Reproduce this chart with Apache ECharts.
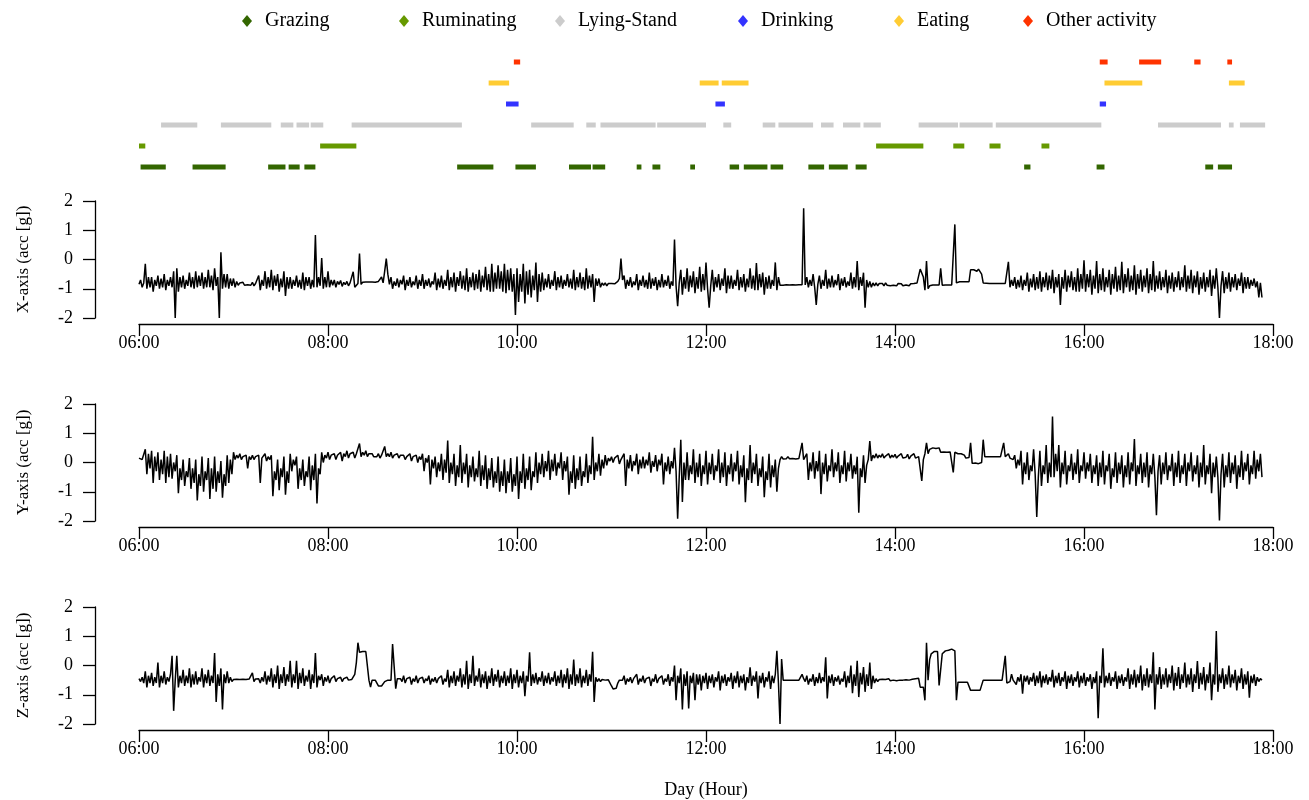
<!DOCTYPE html>
<html>
<head>
<meta charset="utf-8">
<script src="https://cdn.jsdelivr.net/npm/echarts@6/dist/echarts.min.js"></script>
<style>
    html, body { margin: 0; padding: 0; background: #fff; }
    #main { width: 1309px; height: 800px; }
</style>
</head>
<body>
<div id="main"></div>
<script>
    // activity rows, bottom to top
    var activities = ['Grazing', 'Ruminating', 'Lying-Stand', 'Drinking', 'Eating', 'Other activity'];
    var activityColors = ['#336600', '#669900', '#cccccc', '#3333ff', '#ffcc33', '#ff3300'];

    // activity periods [start, end]
    var grazing = [['06:01', '06:17'], ['06:34', '06:55'], ['07:22', '07:33'], ['07:35', '07:42'], ['07:45', '07:52'],
        ['09:22', '09:45'], ['09:59', '10:12'], ['10:33', '10:47'], ['10:48', '10:56'], ['11:16', '11:19'],
        ['11:26', '11:31'], ['11:50', '11:53'], ['12:15', '12:21'], ['12:24', '12:39'], ['12:41', '12:49'],
        ['13:05', '13:15'], ['13:18', '13:30'], ['13:35', '13:42'], ['15:22', '15:26'], ['16:08', '16:13'],
        ['17:17', '17:22'], ['17:25', '17:34']];
    var ruminating = [['06:00', '06:04'], ['07:55', '08:18'], ['13:48', '14:18'], ['14:37', '14:44'],
        ['15:00', '15:07'], ['15:33', '15:38']];
    var lyingStand = [['06:14', '06:37'], ['06:52', '07:24'], ['07:30', '07:38'], ['07:40', '07:48'], ['07:49', '07:57'],
        ['08:15', '09:25'], ['10:09', '10:36'], ['10:44', '10:50'], ['10:53', '11:28'], ['11:29', '12:00'],
        ['12:11', '12:16'], ['12:36', '12:44'], ['12:46', '13:08'], ['13:13', '13:21'], ['13:27', '13:38'],
        ['13:40', '13:51'], ['14:15', '14:40'], ['14:41', '15:02'], ['15:04', '16:11'], ['16:47', '17:27'],
        ['17:32', '17:35'], ['17:39', '17:55']];
    var drinking = [['09:53', '10:01'], ['12:06', '12:12'], ['16:10', '16:14']];
    var eating = [['09:42', '09:55'], ['11:56', '12:08'], ['12:10', '12:27'], ['16:13', '16:37'], ['17:32', '17:42']];
    var otherActivity = [['09:58', '10:02'], ['16:10', '16:15'], ['16:35', '16:49'], ['17:10', '17:14'], ['17:31', '17:34']];

    // acceleration [g], one value per minute, one row per hour from 06:00
    var startHour = 6;
    var xAcc = [
        [-0.85, -0.7, -0.95, -0.8, -0.15, -1.0, -0.6, -0.95, -0.6, -1.1, -0.7, -0.9, -0.55, -1.0, -0.65, -0.95, -0.5, -1.05, -0.7, -0.9, -0.6, -0.95, -0.4, -2.0, -0.3, -1.1, -0.6, -0.95, -0.55, -1.0, -0.7, -0.9, -0.45, -0.95, -0.6, -1.0, -0.4, -0.95, -0.55, -0.9, -0.45, -1.0, -0.6, -0.95, -0.35, -0.95, -0.55, -1.05, -0.3, -0.9, -0.6, -2.0, 0.25, -1.0, -0.5, -0.95, -0.5, -1.0, -0.65, -0.9],
        [-0.65, -0.95, -0.75, -0.88, -0.8, -0.86, -0.78, -0.88, -0.82, -0.86, -0.8, -0.88, -0.78, -0.9, -0.82, -0.85, -0.55, -1.05, -0.7, -0.9, -0.4, -1.0, -0.6, -0.95, -0.35, -1.05, -0.55, -0.9, -0.5, -1.1, -0.65, -0.95, -0.4, -1.25, -0.6, -1.0, -0.6, -1.0, -0.7, -0.9, -0.55, -0.95, -0.7, -1.0, -0.45, -1.05, -0.6, -0.9, -0.6, -1.0, -0.7, -0.95, 0.84, -0.95, -0.6, -0.9, 0.05, -1.0, -0.6, -0.95],
        [-0.4, -0.95, -0.7, -0.88, -0.7, -0.95, -0.75, -0.85, -0.72, -0.92, -0.78, -0.86, -0.75, -0.9, -0.8, -0.86, -0.42, -0.95, -0.9, -0.82, 0.2, -0.85, -0.78, -0.78, -0.77, -0.8, -0.77, -0.79, -0.77, -0.8, -0.78, -0.78, -0.75, -0.7, -0.6, -0.8, -0.4, 0.03, -0.5, -0.85, -0.6, -1.0, -0.75, -0.9, -0.65, -0.95, -0.7, -0.85, -0.55, -1.05, -0.7, -0.9, -0.6, -0.95, -0.75, -0.88, -0.55, -1.0, -0.7, -0.9],
        [-0.5, -1.0, -0.7, -0.9, -0.65, -0.95, -0.75, -0.85, -0.45, -1.05, -0.65, -0.95, -0.55, -1.0, -0.7, -0.9, -0.35, -1.05, -0.6, -0.95, -0.45, -1.1, -0.6, -0.9, -0.4, -1.0, -0.55, -1.05, -0.3, -1.1, -0.6, -0.95, -0.45, -1.05, -0.5, -1.0, -0.35, -1.1, -0.55, -0.95, -0.25, -1.05, -0.5, -1.1, -0.15, -1.1, -0.45, -1.0, -0.2, -1.0, -0.4, -1.1, -0.15, -1.15, -0.35, -1.05, -0.3, -1.1, -0.5, -1.9],
        [-0.3, -1.45, -0.5, -1.1, -0.15, -1.5, -0.4, -1.2, -0.35, -1.3, -0.55, -1.05, -0.1, -1.45, -0.5, -1.1, -0.45, -1.05, -0.65, -0.95, -0.5, -1.0, -0.7, -0.9, -0.4, -1.05, -0.6, -0.95, -0.55, -1.0, -0.7, -0.9, -0.5, -0.95, -0.65, -1.0, -0.35, -1.05, -0.6, -0.95, -0.45, -1.0, -0.6, -1.05, -0.3, -1.0, -0.55, -0.95, -0.5, -1.45, -0.65, -0.9, -0.65, -0.95, -0.8, -0.88, -0.8, -0.9, -0.82, -0.86],
        [-0.82, -0.86, -0.83, -0.85, -0.75, -0.65, 0.03, -0.7, -0.55, -1.0, -0.7, -0.9, -0.6, -0.95, -0.75, -0.88, -0.5, -1.05, -0.7, -0.9, -0.55, -0.95, -0.7, -1.0, -0.45, -1.0, -0.65, -0.9, -0.6, -1.05, -0.7, -0.95, -0.5, -0.95, -0.7, -0.9, -0.55, -1.0, -0.75, -0.9, 0.68, -0.9, -1.6, -0.8, -0.35, -1.2, -0.6, -1.0, -0.3, -1.1, -0.55, -0.95, -0.4, -1.15, -0.6, -1.0, -0.25, -1.1, -0.5, -1.05],
        [-0.1, -1.0, -1.65, -0.9, -0.35, -1.1, -0.6, -0.95, -0.5, -1.05, -0.65, -0.9, -0.3, -1.15, -0.55, -1.0, -0.55, -1.0, -0.7, -0.9, -0.35, -1.05, -0.6, -0.95, -0.5, -1.1, -0.65, -0.95, -0.3, -1.0, -0.55, -1.05, -0.12, -1.05, -0.5, -0.95, -0.45, -1.2, -0.6, -1.0, -0.55, -1.0, -0.7, -0.9, -0.1, -1.05, -0.6, -0.88, -0.82, -0.88, -0.84, -0.86, -0.83, -0.87, -0.85, -0.86, -0.83, -0.87, -0.84, -0.86],
        [-0.85, -0.86, 1.75, -0.87, -0.6, -0.95, -0.7, -0.9, -0.5, -0.95, -1.55, -0.85, -0.55, -1.0, -0.7, -0.9, -0.35, -1.0, -0.65, -0.95, -0.55, -0.95, -0.7, -0.88, -0.5, -1.05, -0.65, -0.9, -0.6, -0.95, -0.75, -0.9, -0.45, -1.0, -0.6, -0.95, -0.05, -1.05, -0.6, -0.9, -0.45, -1.65, -0.7, -0.95, -0.75, -0.95, -0.8, -0.9, -0.8, -0.9, -0.82, -0.88, -0.82, -0.9, -0.8, -0.88, -0.82, -0.9, -0.84, -0.88],
        [-0.83, -0.9, -0.82, -0.88, -0.83, -0.9, -0.84, -0.87, -0.82, -0.9, -0.83, -0.87, -0.82, -0.88, -0.8, -0.85, -0.33, -0.35, -0.6, -1.05, -0.05, -1.0, -0.9, -0.87, -0.87, -0.88, -0.87, -0.87, -0.87, -0.3, -0.88, -0.87, -0.87, -0.88, -0.87, -0.87, -0.87, -0.87, 1.2, -0.8, -0.76, -0.76, -0.76, -0.76, -0.76, -0.76, -0.76, -0.76, -0.35, -0.33, -0.35, -0.33, -0.4, -0.33, -0.35, -0.5, -0.8, -0.82, -0.81, -0.82],
        [-0.82, -0.83, -0.82, -0.83, -0.82, -0.83, -0.82, -0.83, -0.82, -0.83, -0.82, -0.83, -0.08, -0.95, -0.7, -0.9, -0.6, -1.0, -0.7, -0.95, -0.55, -1.05, -0.7, -0.9, -0.45, -1.1, -0.65, -0.95, -0.5, -1.05, -0.6, -1.0, -0.4, -1.1, -0.6, -0.95, -0.45, -1.05, -0.55, -1.0, -0.35, -1.15, -0.6, -0.95, -0.5, -1.55, -0.6, -1.0, -0.35, -1.1, -0.55, -0.95, -0.4, -1.05, -0.6, -1.1, -0.3, -1.1, -0.5, -1.0],
        [-0.03, -1.1, -0.5, -0.95, -0.35, -1.2, -0.55, -1.0, -0.05, -1.15, -0.5, -1.05, -0.3, -1.1, -0.6, -0.95, -0.35, -1.2, -0.5, -1.0, -0.25, -1.1, -0.55, -1.05, -0.08, -1.15, -0.5, -0.95, -0.3, -1.1, -0.55, -1.05, -0.2, -1.2, -0.5, -1.0, -0.35, -1.1, -0.55, -0.95, -0.3, -1.15, -0.5, -1.05, -0.05, -1.1, -0.55, -1.0, -0.4, -1.05, -0.6, -0.95, -0.35, -1.15, -0.55, -1.0, -0.45, -1.1, -0.6, -0.95],
        [-0.4, -1.05, -0.6, -0.95, -0.2, -1.1, -0.55, -1.0, -0.35, -1.15, -0.55, -0.95, -0.4, -1.2, -0.6, -1.0, -0.45, -1.1, -0.6, -0.95, -0.35, -1.25, -0.55, -1.0, -0.3, -0.95, -2.0, -0.9, -0.4, -1.15, -0.6, -1.0, -0.45, -1.1, -0.6, -0.95, -0.5, -1.05, -0.65, -0.9, -0.45, -1.15, -0.6, -1.0, -0.6, -1.0, -0.7, -0.9, -0.65, -0.95, -0.75, -1.3, -0.8, -1.3]
    ];
    var yAcc = [
        [0.15, 0.2, 0.1, 0.15, 0.45, -0.4, 0.3, -0.2, 0.4, -0.7, 0.2, -0.3, 0.35, -0.6, 0.1, -0.4, 0.4, -0.7, 0.2, -0.5, 0.3, -0.55, 0.0, -0.3, 0.25, -1.05, -0.2, -0.6, 0.1, -0.8, -0.3, -0.5, 0.15, -0.9, -0.2, -0.7, 0.1, -1.3, -0.4, -0.8, 0.2, -1.0, -0.3, -0.6, 0.15, -1.25, -0.2, -0.9, 0.2, -1.0, -0.3, -0.7, 0.05, -1.2, -0.4, -0.8, 0.25, -0.7, 0.1, -0.4],
        [0.35, 0.1, 0.25, 0.15, 0.3, 0.1, 0.2, 0.15, 0.25, -0.2, 0.2, 0.1, 0.25, 0.1, 0.2, 0.15, 0.25, -0.7, 0.15, 0.1, 0.3, 0.05, 0.2, 0.1, 0.25, -1.15, -0.3, -0.6, 0.1, -0.95, -0.2, -0.5, 0.2, -1.1, -0.3, -0.7, 0.3, -0.3, 0.1, -0.1, 0.2, -0.9, -0.2, -0.6, 0.1, -0.8, -0.3, -0.5, 0.2, -0.95, -0.1, -0.6, 0.3, -1.4, -0.2, -0.4, 0.35, 0.0, 0.25, 0.15],
        [0.35, 0.1, 0.25, 0.2, 0.3, 0.1, 0.25, 0.2, 0.35, 0.05, 0.3, 0.2, 0.4, 0.15, 0.3, 0.25, 0.35, 0.15, 0.3, 0.25, 0.65, 0.2, 0.35, 0.25, 0.4, 0.2, 0.3, 0.25, 0.3, 0.2, 0.25, 0.2, 0.3, 0.15, 0.25, 0.2, 0.55, 0.2, 0.3, 0.2, 0.35, 0.15, 0.25, 0.2, 0.3, 0.15, 0.25, 0.2, 0.25, 0.1, 0.2, 0.15, 0.3, 0.05, 0.2, 0.15, 0.25, 0.0, 0.2, 0.1],
        [0.3, -0.3, 0.15, 0.0, 0.25, -0.75, 0.1, -0.2, 0.2, -0.5, 0.0, -0.3, 0.3, -0.6, 0.1, -0.35, 0.75, -0.7, 0.0, -0.4, 0.3, -0.8, -0.1, -0.5, 0.6, -0.7, 0.0, -0.4, 0.3, -0.85, -0.1, -0.5, 0.2, -0.65, -0.2, -0.5, 0.4, -0.8, -0.1, -0.6, 0.25, -0.9, -0.2, -0.6, 0.15, -0.85, -0.3, -0.7, 0.2, -1.0, -0.3, -0.8, 0.1, -1.05, -0.3, -0.7, 0.15, -1.0, -0.4, -0.8],
        [0.2, -1.25, -0.3, -0.7, 0.3, -0.9, -0.2, -0.6, 0.2, -0.95, -0.3, -0.5, 0.35, -0.7, 0.0, -0.4, 0.3, -0.5, 0.05, -0.3, 0.4, -0.6, 0.1, -0.3, 0.3, -0.45, 0.0, -0.2, 0.35, -0.6, 0.05, -0.3, 0.2, -1.1, -0.3, -0.7, 0.25, -0.9, -0.2, -0.6, 0.2, -0.8, -0.3, -0.5, 0.3, -0.7, -0.1, -0.4, 0.88, -0.6, 0.0, -0.3, 0.3, -0.45, 0.1, -0.2, 0.25, -0.1, 0.15, 0.05],
        [0.2, 0.0, 0.15, 0.1, 0.25, -0.05, 0.1, 0.15, 0.3, -0.8, 0.1, -0.2, 0.25, -0.3, 0.05, -0.1, 0.3, -0.4, 0.1, -0.2, 0.2, -0.2, 0.1, -0.1, 0.35, -0.35, 0.05, -0.15, 0.25, -0.3, 0.1, -0.1, 0.3, -0.75, 0.0, -0.3, 0.2, -0.4, 0.05, -0.2, 0.5, -0.3, -1.92, -0.5, 0.78, -1.35, 0.0, -0.6, 0.35, -0.6, -0.1, -0.4, 0.45, -0.7, 0.0, -0.5, 0.3, -0.8, -0.1, -0.4],
        [0.4, -0.75, 0.0, -0.4, 0.3, -0.6, -0.1, -0.3, 0.45, -0.7, 0.0, -0.5, 0.35, -0.8, -0.1, -0.4, 0.3, -0.65, 0.0, -0.3, 0.4, -0.75, -0.1, -0.5, 0.25, -1.36, -0.2, -0.6, 0.6, -0.7, 0.0, -0.4, 0.3, -0.8, -0.2, -0.5, 0.2, -1.19, -0.3, -0.6, 0.3, -0.85, -0.1, -0.5, 0.1, -1.0, -0.2, 0.1, 0.2, 0.12, 0.15, 0.13, 0.2, 0.13, 0.16, 0.14, 0.18, 0.12, 0.16, 0.14],
        [0.15, 0.67, 0.1, 0.15, 0.3, -0.6, 0.0, -0.3, 0.35, -0.55, 0.05, -0.3, 0.4, -1.08, 0.0, -0.4, 0.3, -0.65, -0.1, -0.3, 0.45, -0.5, 0.0, -0.3, 0.35, -0.7, -0.1, -0.4, 0.4, -0.65, 0.0, -0.3, 0.3, -0.55, -0.1, -0.4, 0.2, -1.72, -0.2, -0.5, 0.25, -0.7, -0.1, 0.1, 0.73, 0.05, 0.25, 0.15, 0.3, 0.15, 0.25, 0.18, 0.3, 0.15, 0.22, 0.18, 0.3, 0.15, 0.25, 0.18],
        [0.28, 0.15, 0.22, 0.18, 0.3, 0.15, 0.2, 0.18, 0.28, 0.12, 0.22, 0.16, 0.3, 0.15, 0.2, 0.2, 0.2, -0.63, 0.1, 0.3, 0.67, 0.3, 0.45, 0.45, 0.5, 0.45, 0.48, 0.45, 0.5, 0.35, 0.38, 0.36, 0.38, 0.35, 0.37, 0.36, 0.35, -0.34, 0.35, 0.35, 0.3, 0.25, 0.3, 0.28, 0.25, 0.15, 0.2, 0.17, 0.67, -0.03, -0.03, -0.02, -0.02, -0.04, -0.03, 0.0, 0.78, 0.2, 0.2, 0.2],
        [0.22, 0.2, 0.21, 0.2, 0.22, 0.2, 0.21, 0.2, 0.2, 0.67, 0.2, 0.2, 0.3, 0.15, 0.2, 0.1, 0.25, -0.2, 0.1, -0.1, 0.4, -0.75, 0.0, -0.4, 0.35, -0.6, -0.1, -0.3, 0.45, -0.4, -1.86, -0.5, 0.4, -0.8, -0.1, -0.4, 0.6, -0.7, 0.0, -0.5, 1.57, -0.5, 0.3, -0.3, 0.6, -0.85, 0.0, -0.4, 0.4, -0.75, -0.1, -0.3, 0.3, -0.6, 0.0, -0.4, 0.45, -0.7, -0.1, -0.3],
        [0.35, -0.55, 0.0, -0.3, 0.3, -0.7, -0.1, -0.4, 0.25, -0.8, 0.0, -0.5, 0.4, -0.75, -0.1, -0.3, 0.3, -0.9, -0.2, -0.5, 0.35, -0.7, 0.0, -0.4, 0.25, -0.85, -0.1, -0.5, 0.35, -0.75, 0.0, -0.3, 0.8, -0.8, -0.1, -0.4, 0.3, -0.7, 0.0, -0.5, 0.35, -0.85, -0.1, -0.4, 0.3, -0.5, -1.8, -0.3, 0.25, -0.75, 0.0, -0.4, 0.35, -0.6, -0.1, -0.3, 0.3, -0.8, 0.0, -0.5],
        [0.4, -0.7, -0.1, -0.4, 0.3, -0.8, 0.0, -0.3, 0.35, -0.65, -0.1, -0.4, 0.25, -0.85, 0.0, -0.5, 0.6, -0.75, -0.1, -0.4, 0.3, -1.05, 0.0, -0.5, 0.2, -0.5, -1.98, -0.4, 0.3, -0.85, -0.1, -0.5, 0.35, -0.7, 0.0, -0.4, 0.25, -0.9, -0.1, -0.5, 0.4, -0.6, 0.0, -0.3, 0.3, -0.75, -0.1, -0.4, 0.4, -0.55, 0.1, -0.3, 0.3, -0.5]
    ];
    var zAcc = [
        [-0.45, -0.55, -0.4, -0.6, -0.2, -0.75, -0.35, -0.6, -0.25, -0.7, -0.4, -0.6, 0.1, -0.75, -0.35, -0.6, -0.2, -0.65, -0.4, -0.55, -0.3, 0.33, -1.55, -0.5, 0.33, -0.75, -0.35, -0.6, -0.15, -0.7, -0.35, -0.6, -0.1, -0.75, -0.3, -0.65, -0.2, -0.65, -0.4, -0.55, -0.1, -0.75, -0.3, -0.6, -0.15, -0.7, -0.35, -0.6, 0.43, -1.25, -0.3, -0.7, -0.1, -1.5, -0.3, -0.6, -0.2, -0.6, -0.4, -0.55],
        [-0.48, -0.52, -0.47, -0.5, -0.48, -0.51, -0.47, -0.5, -0.48, -0.52, -0.46, -0.5, -0.25, -0.55, -0.46, -0.5, -0.45, -0.6, -0.4, -0.55, -0.2, -0.65, -0.35, -0.55, -0.1, -0.75, -0.3, -0.6, 0.0, -0.8, -0.3, -0.6, -0.05, -0.7, -0.3, -0.55, 0.16, -0.75, -0.3, -0.6, 0.16, -0.8, -0.25, -0.6, -0.1, -0.7, -0.35, -0.55, -0.15, -0.8, -0.3, -0.6, 0.43, -0.75, -0.35, -0.5, -0.3, -0.7, -0.4, -0.55],
        [-0.35, -0.6, -0.45, -0.5, -0.35, -0.55, -0.45, -0.5, -0.4, -0.55, -0.45, -0.48, -0.4, -0.5, -0.45, -0.48, -0.45, -0.3, 0.1, 0.78, 0.45, 0.48, 0.48, 0.48, 0.48, 0.48, -0.5, -0.74, -0.5, -0.5, -0.5, -0.5, -0.7, -0.7, -0.7, -0.7, -0.55, -0.5, -0.5, -0.5, -0.5, 0.73, 0.7, -0.79, -0.45, -0.5, -0.45, -0.55, -0.35, -0.6, -0.45, -0.5, -0.4, -0.65, -0.45, -0.55, -0.35, -0.6, -0.45, -0.5],
        [-0.4, -0.6, -0.45, -0.52, -0.35, -0.65, -0.45, -0.55, -0.4, -0.6, -0.45, -0.5, -0.35, -0.65, -0.45, -0.55, -0.15, -0.75, -0.35, -0.6, -0.2, -0.7, -0.35, -0.55, -0.1, -0.75, -0.3, -0.65, 0.16, -0.8, -0.3, -0.6, 0.33, -0.7, -0.35, -0.55, -0.1, -0.75, -0.3, -0.6, -0.2, -0.8, -0.35, -0.6, -0.1, -0.7, -0.3, -0.55, -0.15, -0.75, -0.35, -0.6, -0.2, -0.7, -0.35, -0.6, -0.1, -0.8, -0.3, -0.6],
        [-0.15, -0.75, -0.35, -0.6, -0.2, -1.05, -0.35, -0.55, 0.45, -0.7, -0.3, -0.6, -0.25, -0.65, -0.4, -0.55, -0.2, -0.7, -0.35, -0.6, -0.25, -0.65, -0.4, -0.55, -0.2, -0.7, -0.35, -0.6, -0.15, -0.75, -0.3, -0.6, -0.1, -0.8, -0.3, -0.65, 0.2, -0.7, -0.3, -0.6, -0.1, -0.75, -0.35, -0.6, -0.15, -0.7, -0.3, -0.55, 0.47, -1.25, -0.4, -0.55, -0.45, -0.55, -0.48, -0.5, -0.5, -0.5, -0.49, -0.5],
        [-0.7, -0.8, -0.8, -0.78, -0.6, -0.5, -0.45, -0.5, -0.35, -0.65, -0.45, -0.55, -0.4, -0.6, -0.45, -0.5, -0.3, -0.65, -0.45, -0.55, -0.35, -0.6, -0.45, -0.5, -0.4, -0.7, -0.45, -0.55, -0.3, -0.6, -0.45, -0.5, -0.35, -0.65, -0.45, -0.55, -0.3, -0.7, -0.4, -0.55, 0.0, -1.19, -0.35, -0.6, -0.1, -1.5, -0.3, -0.7, -0.2, -1.47, -0.35, -0.6, -0.25, -1.19, -0.3, -0.65, -0.3, -0.85, -0.35, -0.6],
        [-0.25, -0.8, -0.35, -0.6, -0.3, -0.75, -0.4, -0.55, -0.2, -0.85, -0.35, -0.6, -0.3, -0.7, -0.4, -0.55, -0.25, -0.8, -0.35, -0.6, -0.2, -0.75, -0.35, -0.6, -0.3, -0.85, -0.4, -0.6, -0.06, -0.7, -0.35, -0.55, -0.2, -1.13, -0.35, -0.6, -0.25, -0.75, -0.4, -0.55, -0.2, -0.8, -0.35, -0.6, -0.3, 0.5, -0.6, -2.0, 0.22, -0.5, -0.5, -0.5, -0.5, -0.5, -0.5, -0.5, -0.5, -0.5, -0.5, -0.5],
        [-0.5, -0.3, -0.45, -0.55, -0.35, -0.65, -0.45, -0.55, -0.3, -0.7, -0.4, -0.6, -0.25, -0.6, -0.4, -0.55, 0.28, -1.13, -0.35, -0.6, -0.3, -0.7, -0.4, -0.55, -0.35, -0.65, -0.45, -0.55, -0.2, -0.75, -0.35, -0.6, 0.0, -0.95, -0.3, -0.7, 0.16, -1.08, -0.25, -0.65, -0.05, -0.9, -0.3, -0.7, 0.1, -0.8, -0.35, -0.6, -0.45, -0.55, -0.48, -0.52, -0.47, -0.52, -0.48, -0.5, -0.45, -0.52, -0.47, -0.5],
        [-0.46, -0.52, -0.47, -0.5, -0.45, -0.5, -0.46, -0.49, -0.45, -0.5, -0.44, -0.47, -0.42, -0.45, -0.42, -0.44, -0.74, -0.74, -0.74, -1.19, 0.78, -0.5, 0.2, 0.4, 0.45, 0.48, 0.48, 0.48, -0.68, -0.68, 0.4, 0.45, 0.5, 0.52, 0.52, 0.52, 0.56, 0.55, 0.5, -1.19, -0.57, -0.57, -0.57, -0.57, -0.57, -0.57, -0.57, -0.57, -0.85, -0.85, -0.85, -0.85, -0.85, -0.86, -0.85, -0.85, -0.5, -0.5, -0.5, -0.5],
        [-0.5, -0.5, -0.5, -0.5, -0.5, -0.5, -0.5, -0.5, -0.5, -0.5, 0.33, -0.6, -0.6, -0.55, -0.3, -0.5, -0.45, -0.65, -0.4, -0.55, -0.3, -0.96, -0.35, -0.55, -0.35, -0.65, -0.4, -0.55, -0.25, -0.7, -0.35, -0.6, -0.2, -0.75, -0.35, -0.6, -0.3, -0.65, -0.4, -0.55, -0.15, -0.75, -0.35, -0.6, -0.25, -0.7, -0.4, -0.55, -0.2, -0.8, -0.35, -0.6, -0.3, -0.7, -0.4, -0.55, -0.2, -0.75, -0.35, -0.6],
        [-0.25, -0.7, -0.4, -0.55, -0.3, -0.8, -0.4, -0.6, -0.2, -1.8, -0.35, -0.6, 0.59, -0.75, -0.35, -0.6, -0.25, -0.7, -0.4, -0.55, -0.2, -0.8, -0.35, -0.6, -0.3, -0.7, -0.4, -0.55, -0.1, -0.8, -0.3, -0.65, -0.15, -0.75, -0.3, -0.6, 0.0, -0.85, -0.3, -0.7, -0.1, -0.75, -0.3, -0.6, 0.45, -1.5, -0.3, -0.65, -0.05, -0.8, -0.3, -0.65, -0.1, -0.75, -0.3, -0.6, 0.0, -0.85, -0.25, -0.7],
        [-0.05, -0.8, -0.3, -0.6, 0.1, -0.75, -0.3, -0.65, -0.1, -0.9, -0.3, -0.6, 0.15, -0.8, -0.25, -0.65, -0.05, -0.85, -0.3, -0.6, 0.1, -1.19, -0.3, -0.65, 1.18, -0.9, -0.3, -0.6, -0.1, -0.8, -0.3, -0.65, 0.0, -0.75, -0.3, -0.6, -0.15, -0.85, -0.35, -0.6, -0.1, -0.8, -0.3, -0.65, -0.2, -1.1, -0.35, -0.6, -0.3, -0.7, -0.4, -0.55, -0.45, -0.5]
    ];
    var axisTitles = ['X-axis (acc [g])', 'Y-axis (acc [g])', 'Z-axis (acc [g])'];

    var serif = 'Liberation Serif';
    var legendLeft = [242, 399, 555, 738, 894, 1023];
    var panelTops = [201, 404, 607];

    function toHour(s) {
        var p = s.split(':');
        return +p[0] + (+p[1]) / 60;
    }

    function hourLabel(v) {
        return (v < 10 ? '0' : '') + v + ':00';
    }

    // rows of per-minute values -> [hour, value]
    function toLine(rows) {
        var out = [];
        rows.forEach(function (row, h) {
            row.forEach(function (v, m) {
                out.push([startHour + h + m / 60, v]);
            });
        });
        return out;
    }

    function renderPeriod(params, api) {
        var start = api.coord([api.value(0), api.value(2)]);
        var end = api.coord([api.value(1), api.value(2)]);
        return {
            type: 'rect',
            shape: { x: start[0], y: start[1] - 2.5, width: Math.max(end[0] - start[0], 2), height: 5 },
            style: api.style()
        };
    }

    var periods = [grazing, ruminating, lyingStand, drinking, eating, otherActivity];

    var grids = [{ left: 139, width: 1134, top: 51.5, height: 126 }];
    var xAxes = [{ gridIndex: 0, type: 'value', min: 6, max: 18, show: false }];
    var yAxes = [{ gridIndex: 0, type: 'category', data: activities, show: false }];
    var series = [];

    periods.forEach(function (list, row) {
        series.push({
            name: activities[row],
            type: 'custom',
            xAxisIndex: 0,
            yAxisIndex: 0,
            renderItem: renderPeriod,
            encode: { x: [0, 1], y: 2 },
            itemStyle: { color: activityColors[row] },
            data: list.map(function (p) { return [toHour(p[0]), toHour(p[1]), row]; })
        });
    });

    [xAcc, yAcc, zAcc].forEach(function (rows, k) {
        var idx = k + 1;
        grids.push({ left: 139, width: 1134, top: panelTops[k], height: 117 });
        xAxes.push({
            gridIndex: idx,
            type: 'value',
            position: 'bottom',
            min: 6,
            max: 18,
            interval: 2,
            offset: 6,
            name: k === 2 ? 'Day (Hour)' : '',
            nameLocation: 'middle',
            nameGap: 51,
            nameTextStyle: { fontFamily: serif, fontSize: 18, color: '#000' },
            axisLine: { onZero: false, lineStyle: { color: '#000', width: 1.3 } },
            axisTick: { length: 12, lineStyle: { color: '#000', width: 1.3 } },
            axisLabel: { margin: 10, fontFamily: serif, fontSize: 18, color: '#000', formatter: hourLabel },
            splitLine: { show: false }
        });
        yAxes.push({
            gridIndex: idx,
            type: 'value',
            min: -2,
            max: 2,
            interval: 1,
            offset: 44,
            name: axisTitles[k],
            nameLocation: 'middle',
            nameRotate: 90,
            nameGap: 63,
            nameTextStyle: { fontFamily: serif, fontSize: 17, color: '#000' },
            axisLine: { show: true, onZero: false, lineStyle: { color: '#000', width: 1.3 } },
            axisTick: { show: true, length: 12, lineStyle: { color: '#000', width: 1.3 } },
            axisLabel: { margin: 22, fontFamily: serif, fontSize: 18, color: '#000' },
            splitLine: { show: false }
        });
        series.push({
            type: 'line',
            xAxisIndex: idx,
            yAxisIndex: idx,
            showSymbol: false,
            symbol: 'none',
            silent: true,
            lineStyle: { color: '#000', width: 1.5 },
            data: toLine(rows)
        });
    });

    var chart = echarts.init(document.getElementById('main'));
    chart.setOption({
        animation: false,
        backgroundColor: '#fff',
        legend: activities.map(function (name, i) {
            return {
                data: [name],
                left: legendLeft[i],
                top: 11,
                padding: 0,
                icon: 'diamond',
                itemWidth: 10,
                itemHeight: 12,
                selectedMode: false,
                textStyle: { fontFamily: serif, fontSize: 20, color: '#000', padding: [0, 0, 0, 8] }
            };
        }),
        grid: grids,
        xAxis: xAxes,
        yAxis: yAxes,
        series: series
    });
</script>
</body>
</html>
